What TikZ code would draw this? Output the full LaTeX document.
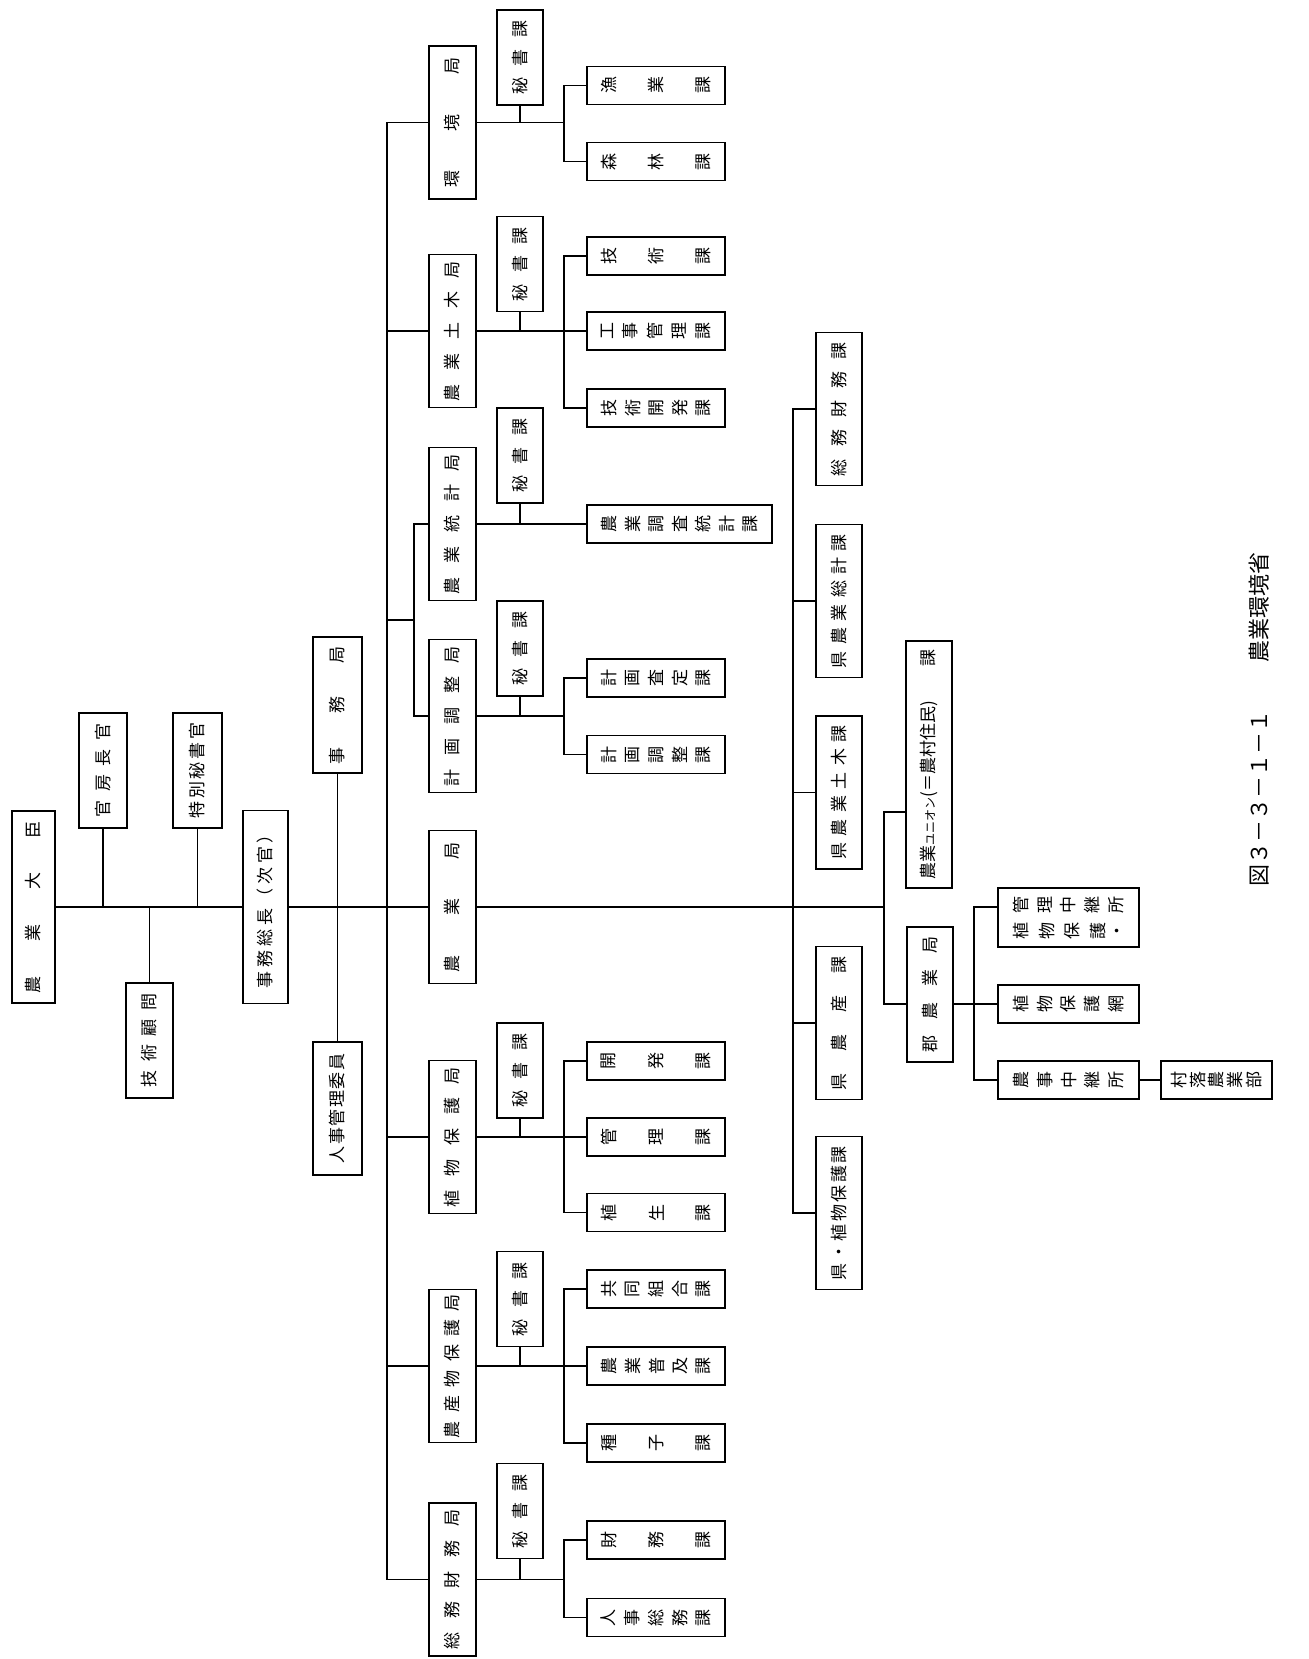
\documentclass[tikz,border=0pt]{standalone}
\usepackage{fontspec}
\usepackage{graphicx}
\setmainfont{Noto Sans CJK JP}
\usepackage{tikz}
\usetikzlibrary{positioning}

% spread text: yoko = line read bottom to top, tate = chars rotated, read left to right
\makeatletter
\def\sp@first#1{#1\sp@rest}
\def\sp@rest#1{\ifx\relax#1\else\hfil#1\expandafter\sp@rest\fi}
\newcommand\yoko[2]{\rotatebox{90}{\hbox to #1{\sp@first#2\relax}}}
\def\tb@first#1{\rotatebox{90}{#1}\tb@rest}
\def\tb@rest#1{\ifx\relax#1\else\hfil\rotatebox{90}{#1}\expandafter\tb@rest\fi}
\newcommand\tate[2]{\hbox to #1{\tb@first#2\relax}}
\makeatother

\begin{document}
\begin{tikzpicture}[x=0.5pt, y=-0.5pt, line width=0.8pt,
    box/.style={draw, line width=0.8pt, inner sep=0pt, font=\fontsize{8.5}{10}\selectfont},
    kyoku/.style={box, minimum width=23.5pt, minimum height=76.5pt},
    hisho/.style={box, minimum width=23pt, minimum height=47.5pt},
    ka/.style={box, minimum width=69pt, minimum height=19pt},
    kenka/.style={box, minimum width=23pt, minimum height=76.5pt}]
  \useasboundingbox (0,0) rectangle (1308,1659);

  % top
  \node[box, minimum width=21.5pt, minimum height=96pt] (daijin) at (33.5,907) {\yoko{86pt}{農業大臣}};
  \node[box, minimum width=24pt, minimum height=57.5pt] (kanbo) at (103,770.5) {\yoko{47pt}{官房長官}};
  \node[box, minimum width=24.5pt, minimum height=57.5pt] (tokuhi) at (197.5,770.5) {\yoko{48pt}{特別秘書官}};
  \node[box, minimum width=23.5pt, minimum height=57.5pt] (komon) at (149.5,1040.5) {\yoko{47pt}{技術顧問}};
  \node[box, minimum width=22.5pt, minimum height=96.5pt] (jimusocho) at (265.5,907) {\yoko{81pt}{事務総長（次官）}};
  \node[box, minimum width=24.5pt, minimum height=68pt] (jimukyoku) at (337.5,705) {\yoko{59pt}{事務局}};
  \node[box, minimum width=24.5pt, minimum height=66.5pt] (jinji) at (337.5,1108.5) {\yoko{55pt}{人事管理委員}};

  % kyoku
  \node[kyoku] (kankyo) at (452.5,122.5) {\yoko{65pt}{環境局}};
  \node[kyoku] (doboku) at (452.5,331) {\yoko{70pt}{農業土木局}};
  \node[kyoku] (tokei) at (452.5,524) {\yoko{70pt}{農業統計局}};
  \node[kyoku] (keikaku) at (452.5,716) {\yoko{70pt}{計画調整局}};
  \node[kyoku] (nogyo) at (452.5,907) {\yoko{65pt}{農業局}};
  \node[kyoku] (shokuho) at (452.5,1137) {\yoko{70pt}{植物保護局}};
  \node[kyoku] (nosan) at (452.5,1366) {\yoko{72pt}{農産物保護局}};
  \node[kyoku] (somukyoku) at (452.5,1579.5) {\yoko{70pt}{総務財務局}};

  % hishoka
  \node[hisho] (h1) at (520,57.5) {\yoko{37pt}{秘書課}};
  \node[hisho] (h2) at (520,264) {\yoko{37pt}{秘書課}};
  \node[hisho] (h3) at (520,455.5) {\yoko{37pt}{秘書課}};
  \node[hisho] (h4) at (520,648.5) {\yoko{37pt}{秘書課}};
  \node[hisho] (h5) at (520,1070.5) {\yoko{37pt}{秘書課}};
  \node[hisho] (h6) at (520,1299) {\yoko{37pt}{秘書課}};
  \node[hisho] (h7) at (520,1511) {\yoko{37pt}{秘書課}};

  % ka
  \node[ka] (gyogyo) at (656,85.5) {\tate{55pt}{漁業課}};
  \node[ka] (shinrin) at (656,161.5) {\tate{55pt}{森林課}};
  \node[ka] (gijutsu) at (656,256) {\tate{55pt}{技術課}};
  \node[ka] (koji) at (656,331) {\tate{55pt}{工事管理課}};
  \node[ka] (gikai) at (656,408) {\tate{55pt}{技術開発課}};
  \node[ka, minimum width=92.5pt] (chosa) at (679.5,524) {\tate{78pt}{農業調査統計課}};
  \node[ka] (satei) at (656,678) {\tate{55pt}{計画査定課}};
  \node[ka] (chosei) at (656,754.5) {\tate{55pt}{計画調整課}};
  \node[ka] (kaihatsu) at (656,1061) {\tate{55pt}{開発課}};
  \node[ka] (kanri) at (656,1137) {\tate{55pt}{管理課}};
  \node[ka] (shokusei) at (656,1212.5) {\tate{55pt}{植生課}};
  \node[ka] (kumiai) at (656,1289) {\tate{55pt}{共同組合課}};
  \node[ka] (fukyu) at (656,1366) {\tate{55pt}{農業普及課}};
  \node[ka] (shushi) at (656,1443) {\tate{55pt}{種子課}};
  \node[ka] (zaimu) at (656,1540) {\tate{55pt}{財務課}};
  \node[ka] (jinso) at (656,1617.5) {\tate{55pt}{人事総務課}};

  % ken
  \node[kenka] (somuka) at (839,409) {\yoko{67pt}{総務財務課}};
  \node[kenka] (kensokei) at (839,601) {\yoko{67pt}{県農業総計課}};
  \node[kenka] (kendoboku) at (839,792.5) {\yoko{67pt}{県農業土木課}};
  \node[kenka] (kennosan) at (839,1023) {\yoko{67pt}{県農産課}};
  \node[kenka] (kenhogo) at (839,1213) {\yoko{67pt}{県・植物保護課}};
  \node[box, minimum width=23pt, minimum height=123.5pt] (union) at (929,764.5)
    {\rotatebox{90}{\hbox to 115pt{農業{\fontsize{6}{7}\selectfont ユニオン}(＝農村住民)\hfil 課}}};
  \node[box, minimum width=23pt, minimum height=67.5pt] (gun) at (930,994.5) {\yoko{58pt}{郡農業局}};
  \node[box, minimum width=70.5pt, minimum height=29.5pt] (chukei) at (1068.5,917.5)
    {\vbox{\hbox{\tate{55pt}{管理中継所}}\vskip3pt\hbox{\tate{55pt}{植物保護・}}}};
  \node[ka, minimum width=70.5pt] (hogomo) at (1068.5,1004) {\tate{55pt}{植物保護網}};
  \node[ka, minimum width=70.5pt] (noji) at (1068.5,1080) {\tate{55pt}{農事中継所}};
  \node[ka, minimum width=55.5pt] (sonraku) at (1216.5,1080) {\tate{45pt}{村落農業部}};

  \node[font=\fontsize{11}{13}\selectfont] (title) at (1259,719.5)
    {\rotatebox{90}{\hbox to 167pt{図３－３－１－１\hfil 農業環境省}}};

  % main line
  \coordinate (bustop) at (387,122.5);
  \coordinate (busbot) at (387,1579.5);
  \coordinate (subj) at (415,620);
  \coordinate (kabus) at (564,0);
  \coordinate (gunbus) at (884,907);
  \draw (daijin.east) -- (jimusocho.west);
  \draw (jimusocho.east) -- (nogyo.west);
  \draw (nogyo.east) -- (gunbus);
  \draw (kanbo.south) -- (kanbo.south |- daijin.east);
  \draw (tokuhi.south) -- (tokuhi.south |- daijin.east);
  \draw (komon.north) -- (komon.north |- daijin.east);
  \draw (jimukyoku.south) -- (jinji.north);
  \draw (bustop) -- (busbot);
  \draw (kankyo.west) -- (kankyo.west -| bustop);
  \draw (doboku.west) -- (doboku.west -| bustop);
  \draw (shokuho.west) -- (shokuho.west -| bustop);
  \draw (nosan.west) -- (nosan.west -| bustop);
  \draw (somukyoku.west) -- (somukyoku.west -| bustop);
  \draw (tokei.west) -- ++(-14,0) |- (keikaku.west);
  \draw (subj) -- (subj -| bustop);

  % kyoku to ka
  \draw (kankyo.east) -- (kankyo.east -| kabus);
  \draw (gyogyo.west) -| (kabus |- shinrin.west) -- (shinrin.west);
  \draw (doboku.east) -- (koji.west);
  \draw (gijutsu.west) -| (kabus |- gikai.west) -- (gikai.west);
  \draw (tokei.east) -- (chosa.west);
  \draw (keikaku.east) -- (keikaku.east -| kabus);
  \draw (satei.west) -| (kabus |- chosei.west) -- (chosei.west);
  \draw (shokuho.east) -- (kanri.west);
  \draw (kaihatsu.west) -| (kabus |- shokusei.west) -- (shokusei.west);
  \draw (nosan.east) -- (fukyu.west);
  \draw (kumiai.west) -| (kabus |- shushi.west) -- (shushi.west);
  \draw (somukyoku.east) -- (somukyoku.east -| kabus);
  \draw (zaimu.west) -| (kabus |- jinso.west) -- (jinso.west);
  \draw (h1.south) -- (h1.south |- kankyo.east);
  \draw (h2.south) -- (h2.south |- doboku.east);
  \draw (h3.south) -- (h3.south |- tokei.east);
  \draw (h4.south) -- (h4.south |- keikaku.east);
  \draw (h5.south) -- (h5.south |- shokuho.east);
  \draw (h6.south) -- (h6.south |- nosan.east);
  \draw (h7.south) -- (h7.south |- somukyoku.east);

  % ken
  \draw (somuka.west) -- ++(-22,0) |- (kenhogo.west);
  \draw (kensokei.west) -- ++(-22,0);
  \draw (kendoboku.west) -- ++(-22,0);
  \draw (kennosan.west) -- ++(-22,0);
  \coordinate (unionj) at (884,812);
  \coordinate (gunj) at (884,1004);
  \coordinate (chukeij) at (974,907);
  \draw (unionj -| union.west) -- (unionj) -- (gunj) -- (gunj -| gun.west);
  \draw (gun.east |- gunj) -- (hogomo.west);
  \draw (chukeij -| chukei.west) -- (chukeij) |- (noji.west);
  \draw (noji.east) -- (sonraku.west);
\end{tikzpicture}
\end{document}
